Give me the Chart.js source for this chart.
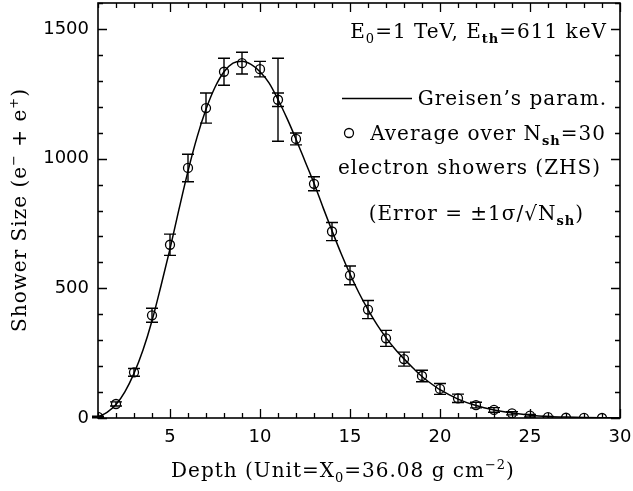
<!DOCTYPE html>
<html>
<head>
<meta charset="utf-8">
<script src="https://cdn.jsdelivr.net/npm/chart.js@4.4.0/dist/chart.umd.min.js"></script>
<style>
  html, body { margin: 0; padding: 0; background: #fff; }
  #wrap { width: 633px; height: 491px; }
</style>
</head>
<body>
<div id="wrap"><canvas id="chart" width="633" height="491"></canvas></div>
<script>
// ZHS average over 30 showers
const depths = [1, 2, 3, 4, 5, 6, 7, 8, 9, 10, 11, 12, 13, 14, 15, 16, 17, 18, 19, 20, 21, 22, 23, 24, 25, 26, 27, 28, 29];
const showerSize = [4, 54, 176, 396, 668, 964, 1195, 1335, 1368, 1345, 1227, 1076, 903, 719, 550, 418, 307, 227, 162, 112, 76, 50, 31, 18, 9, 3, 1, 0.5, 0];
const sizeErr = [3, 8, 15, 27, 41, 53, 58, 52, 42, 30, 26, 23, 27, 35, 36, 35, 31, 27, 22, 21, 16, 11, 9, 6, 5, 3, 2, 1, 1];
// the one point that also carries a much wider bar
const wideErrDepth = [11];
const wideErrSize = [1227];
const wideErr = [160];

// Greisen's parametrisation
const curveDepth = [1, 1.5, 2, 2.5, 3, 3.5, 4, 4.5, 5, 5.5, 6, 6.5, 7, 7.5, 8, 8.5, 9, 9.5, 10, 10.5, 11, 11.5, 12, 12.5, 13, 13.5, 14, 14.5, 15, 15.5, 16, 16.5, 17, 17.5, 18, 18.5, 19, 19.5, 20, 21, 22, 23, 24, 25, 26, 27, 28, 29, 30];
const curveSize = [4, 22, 52, 102, 172, 262, 375, 510, 652, 805, 952, 1082, 1190, 1275, 1335, 1368, 1375, 1363, 1335, 1292, 1228, 1155, 1075, 990, 905, 812, 722, 635, 555, 482, 418, 360, 310, 266, 228, 193, 160, 133, 109, 73, 48, 31, 19, 11, 6, 3.5, 2, 1, 0.5];

const xTicks = [5, 10, 15, 20, 25, 30];
const yTicks = [0, 500, 1000, 1500];
const xMinorStep = 1;
const yMinorStep = 100;

const serif = '"DejaVu Serif", serif';
const sans = '"DejaVu Sans", sans-serif';
const textSize = 20;

// draw text made of pieces: [text, kind] kind = '' | 'sub' | 'subb' | 'sup'
function partFont(kind, size) {
  if (kind === 'sub' || kind === 'sup') return Math.round(size * 0.66) + 'px ' + serif;
  if (kind === 'subb') return 'bold ' + Math.round(size * 0.66) + 'px ' + serif;
  return size + 'px ' + serif;
}
function richWidth(ctx, parts, size) {
  let w = 0;
  parts.forEach(p => {
    ctx.font = partFont(p[1], size);
    w += ctx.measureText(p[0]).width;
  });
  return w;
}
function drawRich(ctx, parts, x, y, size, align) {
  const w = richWidth(ctx, parts, size);
  let cx = align === 'right' ? x - w : align === 'center' ? x - w / 2 : x;
  parts.forEach(p => {
    ctx.font = partFont(p[1], size);
    let dy = 0;
    if (p[1] === 'sub' || p[1] === 'subb') dy = size * 0.26;
    if (p[1] === 'sup') dy = -size * 0.42;
    ctx.fillText(p[0], cx, y + dy);
    cx += ctx.measureText(p[0]).width;
  });
}

const framePlugin = {
  id: 'frame',
  afterDatasetsDraw(chart) {
    const { ctx, chartArea: a, scales: { x, y } } = chart;
    ctx.save();
    ctx.strokeStyle = '#000';
    ctx.lineWidth = 1.6;
    ctx.strokeRect(a.left, a.top, a.right - a.left, a.bottom - a.top);
    ctx.lineWidth = 1.3;
    ctx.beginPath();
    for (let v = x.min; v <= x.max + 1e-9; v += xMinorStep) {
      const len = xTicks.includes(v) ? 9 : 5;
      const px = Math.round(x.getPixelForValue(v)) + 0.5;
      ctx.moveTo(px, a.bottom); ctx.lineTo(px, a.bottom - len);
      ctx.moveTo(px, a.top); ctx.lineTo(px, a.top + len);
    }
    for (let v = y.min; v <= y.max + 1e-9; v += yMinorStep) {
      const len = yTicks.includes(v) ? 9 : 5;
      const py = Math.round(y.getPixelForValue(v)) + 0.5;
      ctx.moveTo(a.left, py); ctx.lineTo(a.left + len, py);
      ctx.moveTo(a.right, py); ctx.lineTo(a.right - len, py);
    }
    ctx.stroke();
    ctx.restore();
  }
};

const errorBarPlugin = {
  id: 'errorBars',
  afterDatasetsDraw(chart) {
    const { ctx, scales: { x, y } } = chart;
    const cap = 6;
    ctx.save();
    ctx.strokeStyle = '#000';
    ctx.lineWidth = 1.4;
    const bar = (d, v, e) => {
      const px = x.getPixelForValue(d);
      const top = y.getPixelForValue(v + e);
      const bot = y.getPixelForValue(Math.max(v - e, 0));
      ctx.beginPath();
      ctx.moveTo(px, top); ctx.lineTo(px, bot);
      ctx.moveTo(px - cap, top); ctx.lineTo(px + cap, top);
      if (v - e > 0) { ctx.moveTo(px - cap, bot); ctx.lineTo(px + cap, bot); }
      ctx.stroke();
    };
    depths.forEach((d, i) => { if (sizeErr[i] > 2) bar(d, showerSize[i], sizeErr[i]); });
    wideErrDepth.forEach((d, i) => bar(d, wideErrSize[i], wideErr[i]));
    ctx.restore();
  }
};

const textPlugin = {
  id: 'texts',
  afterDraw(chart) {
    const { ctx } = chart;
    ctx.save();
    ctx.fillStyle = '#000';
    ctx.strokeStyle = '#000';
    ctx.textBaseline = 'alphabetic';
    ctx.letterSpacing = '1px';

    // annotation + legend
    drawRich(ctx, [['E'], ['0', 'sub'], ['=1 TeV, E'], ['th', 'subb'], ['=611 keV']], 607, 38, textSize, 'right');

    ctx.lineWidth = 1.4;
    ctx.beginPath(); ctx.moveTo(342, 98.5); ctx.lineTo(412, 98.5); ctx.stroke();
    drawRich(ctx, [['Greisen\u2019s param.']], 607, 105, textSize, 'right');

    ctx.lineWidth = 1.3;
    ctx.beginPath(); ctx.arc(349, 133, 4.5, 0, Math.PI * 2); ctx.stroke();
    drawRich(ctx, [['Average over N'], ['sh', 'subb'], ['=30']], 606, 140, textSize, 'right');
    drawRich(ctx, [['electron showers (ZHS)']], 601, 174, textSize, 'right');
    drawRich(ctx, [['(Error = \u00b11\u03c3/\u221aN'], ['sh', 'subb'], [')']], 584, 220, textSize, 'right');

    // axis titles
    drawRich(ctx, [['Depth (Unit=X'], ['0', 'sub'], ['=36.08 g cm'], ['\u22122', 'sup'], [')']], 343, 477, textSize, 'center');

    ctx.translate(26, 210);
    ctx.rotate(-Math.PI / 2);
    drawRich(ctx, [['Shower Size (e'], ['\u2212', 'sup'], [' + e'], ['+', 'sup'], [')']], 0, 0, textSize, 'center');
    ctx.restore();
  }
};

const noPad = s => { s.paddingTop = 0; s.paddingBottom = 0; s.paddingLeft = 0; s.paddingRight = 0; };

new Chart(document.getElementById('chart'), {
  type: 'scatter',
  data: {
    datasets: [
      {
        label: "Greisen's param.",
        data: curveDepth.map((d, i) => ({ x: d, y: curveSize[i] })),
        showLine: true,
        borderColor: '#000',
        borderWidth: 1.5,
        pointRadius: 0,
        cubicInterpolationMode: 'monotone',
        order: 2
      },
      {
        label: 'Average over Nsh=30 electron showers (ZHS)',
        data: depths.map((d, i) => ({ x: d, y: showerSize[i] })),
        showLine: false,
        pointStyle: 'circle',
        pointRadius: 4.5,
        borderColor: '#000',
        backgroundColor: 'rgba(0,0,0,0)',
        borderWidth: 1.3,
        order: 1
      }
    ]
  },
  options: {
    responsive: false,
    animation: false,
    devicePixelRatio: 1,
    layout: { padding: { top: 3, right: 13, left: 0, bottom: 0 }, autoPadding: false },
    plugins: {
      legend: { display: false },
      tooltip: { enabled: false }
    },
    scales: {
      x: {
        type: 'linear',
        min: 1,
        max: 30,
        afterBuildTicks: s => { s.ticks = xTicks.map(v => ({ value: v })); },
        afterFit: s => { s.height = 73; noPad(s); },
        grid: { display: false, drawTicks: false },
        border: { display: false },
        ticks: { color: '#000', padding: 9, maxRotation: 0, font: { family: sans, size: 18 }, callback: v => String(v) }
      },
      y: {
        type: 'linear',
        min: 0,
        max: 1600,
        afterBuildTicks: s => { s.ticks = yTicks.map(v => ({ value: v })); },
        afterFit: s => { s.width = 98; noPad(s); },
        grid: { display: false, drawTicks: false },
        border: { display: false },
        ticks: { color: '#000', padding: 9, font: { family: sans, size: 18 }, callback: v => String(v) }
      }
    }
  },
  plugins: [framePlugin, errorBarPlugin, textPlugin]
});
</script>
</body>
</html>
